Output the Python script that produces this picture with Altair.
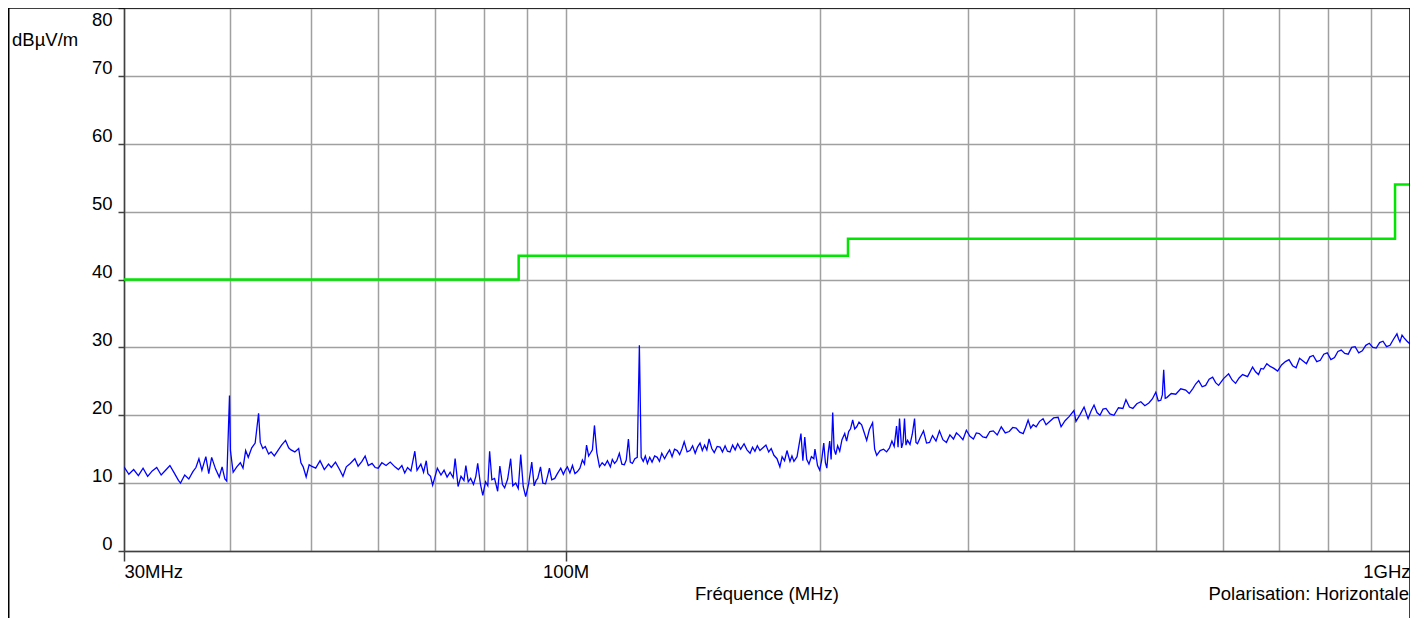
import altair as alt
import pandas as pd

# ---------------- data ----------------
freq_mhz = [
    30.0, 30.4, 30.8, 31.2, 31.6, 32.0, 32.4, 32.8, 33.2, 33.6, 34.0, 34.4, 34.8, 35.0, 35.4, 35.8,
    36.2, 36.5, 36.8, 37.1, 37.5, 37.8, 38.1, 38.5, 38.9, 39.2, 39.5, 39.7, 40.0, 40.1, 40.4, 40.8,
    41.2, 41.5, 41.8, 42.1, 42.5, 42.9, 43.3, 43.5, 43.8, 44.1, 44.5, 44.8, 45.2, 45.7, 46.1, 46.6,
    47.0, 47.3, 47.8, 48.3, 48.6, 48.9, 49.3, 49.7, 50.0,
    50.6, 51.2, 51.8, 52.4, 52.8, 53.4, 54.0, 54.5, 55.0, 55.6, 56.3, 56.8, 57.4, 57.9, 58.4, 59.0,
    59.5, 60.0, 60.6, 61.3, 62.0, 62.8, 63.4, 64.0, 64.5, 65.0, 65.6, 66.3, 66.7, 67.4, 67.9, 68.4,
    68.7, 69.2, 69.6, 70.0, 70.5, 71.2, 71.8, 72.4, 73.0, 73.6, 74.0, 74.6, 75.2, 75.8, 76.2, 76.7,
    77.2, 77.8, 78.3, 78.7, 79.3, 79.8, 80.4, 80.9, 81.3, 81.8, 82.4, 83.1, 83.6, 84.2, 84.7, 85.4,
    86.1, 86.6, 87.3, 87.9, 88.5, 89.1, 89.7, 90.4, 91.2, 91.8, 92.3, 92.7, 93.4, 94.0, 94.7, 95.2,
    95.7, 96.3, 97.1, 97.8, 98.7, 99.4, 100.0,
    100.5, 101.2, 101.9, 102.6, 103.3, 104.0, 104.7, 105.3, 105.9, 106.5, 107.0, 107.6, 108.2, 108.9,
    109.7, 110.5, 111.3, 112.1, 113.0, 113.6, 114.3, 115.0, 115.8, 116.6, 117.4, 118.0, 118.7, 119.3,
    120.0, 120.8, 121.6, 122.3, 122.9, 123.6, 124.3, 125.0, 125.8, 126.6, 127.5, 128.4, 129.2, 130.0,
    131.0, 131.9, 132.8, 133.7, 134.6, 135.6, 136.5, 137.4, 138.2, 139.3, 140.4, 141.4, 142.4, 143.3,
    144.3, 145.2, 146.1, 147.0, 147.9, 149.0, 150.0, 151.2, 152.4, 153.4, 154.5, 155.5, 156.6, 157.7,
    158.8, 159.9, 161.2, 162.7, 164.0, 165.4, 166.5, 167.6, 168.7, 169.9, 171.3, 172.7, 174.0, 175.2,
    176.5, 178.0, 179.4, 180.5, 181.7, 182.9, 184.4, 185.4, 186.4, 188.0, 190.0, 191.0, 192.0, 193.0,
    194.2, 195.5, 196.8, 197.4, 198.8, 200.0,
    201.0, 202.2, 203.1, 203.9, 204.7, 205.5, 206.3, 207.2, 208.0, 208.9, 210.0, 211.2, 212.5, 214.1,
    215.2, 216.4, 217.5, 218.8, 220.0, 221.2, 222.6, 224.2, 225.7, 227.3, 229.0, 231.0, 232.3, 233.6,
    235.8, 238.0, 240.0, 241.9, 243.5, 245.0, 246.6, 247.6, 248.6, 250.0, 251.0, 252.0, 253.0, 254.1,
    255.8, 257.4, 259.0, 260.0, 261.1, 263.2, 265.4, 267.6, 269.8, 272.0, 274.6, 277.2, 279.8, 282.5,
    285.2, 288.0, 290.3, 292.7, 295.5, 298.3, 301.2, 304.1, 306.5, 309.0, 312.0, 314.9, 318.0, 321.0,
    324.5, 328.1, 331.7, 335.3, 338.5, 341.7, 345.0, 348.3, 350.6, 353.0, 355.5, 357.9, 360.8, 364.2,
    367.7, 370.7, 373.8, 378.4, 383.1, 386.2, 390.4, 394.7, 400.0,
    402.2, 406.7, 411.2, 415.7, 419.0, 422.5, 425.9, 429.4, 433.0, 436.5, 441.2, 446.1, 451.6, 457.1,
    460.9, 465.3, 469.7, 474.8, 480.0, 485.3, 490.6, 495.3, 500.0, 503.4, 506.8, 509.0, 510.9, 513.0,
    515.2, 521.5, 528.0, 535.2, 542.5, 547.7, 552.9, 557.4, 562.0, 567.4, 572.8, 578.3, 583.8, 588.6,
    593.4, 601.5, 609.8, 615.6, 621.5, 627.5, 633.5, 642.2, 651.0, 656.3, 661.6, 666.1, 670.6, 676.8,
    683.0, 690.0, 697.0, 704.5, 712.0, 719.0, 726.0, 733.0, 740.0, 747.0, 754.0, 761.0, 768.0, 775.5,
    783.0, 790.5, 798.0, 806.0, 814.0, 821.5, 829.0, 837.0, 845.0, 853.0, 861.0, 869.5, 878.0, 886.5,
    895.0, 903.5, 912.0, 920.5, 929.0, 938.0, 947.0, 956.0, 965.0, 969.0, 973.0, 978.5, 984.0, 992.0,
    1000.0,
]
level_dbuv = [
    12.4, 11.3, 12.0, 11.1, 12.2, 11.0, 11.8, 12.3, 11.2, 11.9, 12.6, 11.5, 10.4, 10.0, 11.2, 10.6,
    11.7, 12.3, 13.6, 11.9, 13.9, 11.4, 13.8, 12.1, 10.9, 12.4, 10.6, 10.3, 22.9, 14.8, 11.6, 12.4,
    13.0, 12.2, 14.8, 13.8, 15.2, 15.9, 20.3, 16.0, 15.1, 15.4, 14.3, 14.6, 14.0, 14.9, 15.6, 16.3,
    15.2, 14.9, 14.6, 15.1, 13.0, 12.4, 10.9, 12.7, 12.5,
    12.2, 13.3, 12.0, 12.8, 12.3, 13.1, 12.0, 11.0, 12.4, 12.9, 13.6, 12.5, 13.2, 14.0, 12.6, 12.9,
    12.3, 12.2, 13.0, 12.6, 13.1, 12.4, 12.0, 12.6, 11.5, 12.3, 11.8, 14.7, 11.9, 12.8, 11.6, 13.3,
    11.4, 11.0, 9.7, 10.8, 12.2, 11.2, 11.9, 10.9, 11.6, 10.8, 13.6, 9.5, 11.0, 10.4, 12.6, 10.2,
    10.7, 9.8, 11.0, 12.9, 9.8, 8.2, 10.2, 9.6, 14.7, 10.5, 10.7, 8.8, 12.5, 9.8, 9.3, 10.6,
    13.6, 9.6, 10.0, 9.2, 14.2, 9.5, 8.0, 9.8, 13.1, 9.6, 10.4, 10.7, 12.4, 10.0, 9.9, 11.0,
    12.2, 10.5, 10.7, 11.4, 12.2, 11.3, 12.0,
    12.4, 11.5, 12.6, 11.4, 11.7, 12.2, 13.4, 12.8, 15.6, 14.0, 14.4, 14.9, 18.5, 14.5,
    12.4, 13.0, 12.6, 13.3, 12.4, 13.5, 12.9, 13.3, 14.4, 12.8, 12.7, 13.4, 16.5, 13.1,
    12.9, 13.6, 13.8, 30.3, 13.8, 13.2, 14.0, 12.9, 13.8, 13.1, 14.0, 13.8, 13.2, 14.4,
    13.6, 14.3, 14.9, 13.9, 15.0, 14.8, 14.2, 15.1, 16.1, 14.6, 14.8, 15.5, 14.4, 15.3,
    15.9, 14.8, 15.6, 14.9, 16.5, 15.1, 14.5, 15.4, 15.3, 14.6, 15.5, 14.7, 14.6, 15.6,
    14.9, 15.8, 15.0, 15.8, 14.9, 14.4, 15.3, 14.7, 15.5, 14.8, 15.2, 15.6, 14.6, 15.1,
    14.1, 13.6, 12.4, 13.9, 13.3, 14.8, 13.2, 14.0, 13.2, 13.9, 17.3, 13.3, 16.8, 13.5,
    12.8, 13.9, 13.6, 15.0, 12.6, 11.9,
    13.3, 15.9, 13.0, 12.2, 14.6, 16.2, 13.5, 20.4, 15.0, 14.2, 15.5, 14.7, 16.4, 17.3,
    16.2, 17.6, 18.0, 19.3, 18.0, 18.3, 19.0, 18.6, 17.5, 16.3, 17.9, 18.9, 15.0, 14.1,
    14.8, 15.0, 14.6, 15.2, 16.2, 15.4, 18.4, 15.3, 19.5, 15.2, 16.0, 19.5, 15.6, 16.3,
    15.7, 17.2, 19.5, 16.0, 15.8, 16.8, 17.7, 15.9, 16.0, 17.0, 16.2, 17.7, 16.4, 16.0,
    17.1, 16.5, 17.4, 17.0, 16.4, 17.8, 16.9, 16.5, 17.4, 17.3, 16.8, 16.7, 17.6, 17.7,
    17.1, 18.3, 17.4, 17.6, 18.2, 18.1, 17.5, 17.3, 18.2, 19.3, 18.1, 18.6, 18.3, 19.1,
    19.5, 18.6, 19.0, 19.6, 19.7, 18.3, 19.2, 19.8, 20.7,
    19.1, 20.1, 21.2, 19.5, 20.6, 21.5, 20.4, 20.0, 20.9, 21.0, 20.2, 20.0, 21.1, 21.0,
    22.3, 21.2, 21.0, 21.7, 22.0, 21.4, 21.8, 22.4, 23.4, 22.1, 22.2, 23.0, 26.7, 22.5,
    22.6, 23.2, 23.1, 23.9, 23.7, 23.2, 23.9, 24.6, 25.1, 24.2, 24.4, 25.3, 25.6, 24.8,
    24.4, 25.4, 26.1, 25.2, 24.7, 25.5, 26.0, 25.7, 27.1, 26.4, 26.0, 26.9, 26.8, 27.6,
    27.2, 26.9, 26.5, 27.4, 27.9, 28.2, 27.3, 27.0, 28.4, 28.0, 27.6, 28.6, 28.8, 27.9,
    28.1, 29.0, 29.2, 28.2, 28.5, 29.4, 29.6, 29.1, 29.0, 30.0, 30.1, 29.2, 29.5, 30.3,
    30.6, 30.0, 29.9, 30.7, 30.9, 30.1, 30.3, 31.2, 32.0, 31.3, 30.8, 31.8, 31.4, 30.9,
    30.5,
]

limit_freq = [30, 88, 88, 216, 216, 960, 960, 1000]
limit_level = [40, 40, 43.5, 43.5, 46, 46, 54, 54]
limit_order = [0, 1, 2, 3, 4, 5, 6, 7]

x_grid_values = [30, 40, 50, 60, 70, 80, 90, 100, 200, 300, 400, 500, 600, 700, 800, 900, 1000]
y_tick_values = [0, 10, 20, 30, 40, 50, 60, 70, 80]

y_unit_label = "dBµV/m"
x_title = "Fréquence (MHz)"
polarisation_text = "Polarisation: Horizontale"

FONT = "Liberation Sans"
FS = 18.5
W, H = 1286, 543
PAD_L = 116

meas = pd.DataFrame({"f": freq_mhz, "v": level_dbuv})
lim = pd.DataFrame({"f": limit_freq, "v": limit_level, "o": limit_order})

xscale = alt.Scale(type="log", domain=[30, 1000], nice=False)
yscale = alt.Scale(domain=[0, 80], nice=False)

x_axis = alt.Axis(
    values=x_grid_values,
    grid=True, gridColor="#a0a0a0", gridWidth=1.5,
    labelExpr="datum.value == 30 ? '30MHz' : datum.value == 100 ? '100M' : datum.value == 1000 ? '1GHz' : ''",
    labelFlush=True, labelOverlap=False,
    labelFont=FONT, labelFontSize=FS, labelColor="#000000", labelPadding=1,
    tickSize=10, tickWidth=1.5,
    tickColor={"condition": {"test": "datum.value == 30 || datum.value == 100", "value": "#404040"},
               "value": "transparent"},
    domainColor="#404040", domainWidth=1.5,
    title=None,
)

y_axis = alt.Axis(
    values=y_tick_values,
    grid=True, gridColor="#a0a0a0", gridWidth=1.5,
    labelFont=FONT, labelFontSize=FS, labelColor="#000000",
    labelBaseline="alphabetic",
    labelOffset={"condition": {"test": "datum.value == 80", "value": 17}, "value": -2},
    labelPadding=6, tickSize=6, tickWidth=1.5, tickColor="#404040",
    domainColor="#404040", domainWidth=1.5,
    title=None,
)

meas_line = alt.Chart(meas).mark_line(color="#0000ff", strokeWidth=1.3, clip=True).encode(
    x=alt.X("f:Q", scale=xscale, axis=x_axis),
    y=alt.Y("v:Q", scale=yscale, axis=y_axis),
)

limit_line = alt.Chart(lim).mark_line(color="#00e600", strokeWidth=2.5, clip=True).encode(
    x=alt.X("f:Q", scale=xscale),
    y=alt.Y("v:Q", scale=yscale),
    order=alt.Order("o:Q"),
)

frame = alt.Chart(pd.DataFrame({"k": [0]})).mark_rect(
    fillOpacity=0, stroke="#000000", strokeWidth=1.5, clip=False
).encode(
    x=alt.value(-PAD_L + 0.75), x2=alt.value(W), y=alt.value(0), y2=alt.value(700)
)

def text_layer(label, px, py, align):
    return alt.Chart(pd.DataFrame({"t": [label]})).mark_text(
        font=FONT, fontSize=FS, color="#000000", align=align, baseline="alphabetic"
    ).encode(text="t:N", x=alt.value(px), y=alt.value(py))

unit_text = text_layer(y_unit_label, -PAD_L + 4, 38, "left")
xtitle_text = text_layer(x_title, 643, 592, "center")
pol_text = text_layer(polarisation_text, W - 1, 592, "right")

chart = alt.layer(
    meas_line, limit_line, frame, unit_text, xtitle_text, pol_text
).properties(
    width=W, height=H,
    padding={"left": PAD_L, "top": 0, "right": 0, "bottom": 67},
    autosize=alt.AutoSizeParams(type="none"),
).configure_view(
    stroke="#000000", strokeWidth=1.5
).configure(background="#ffffff")

chart.save("out.html", embed_options={"renderer": "svg", "actions": False})
